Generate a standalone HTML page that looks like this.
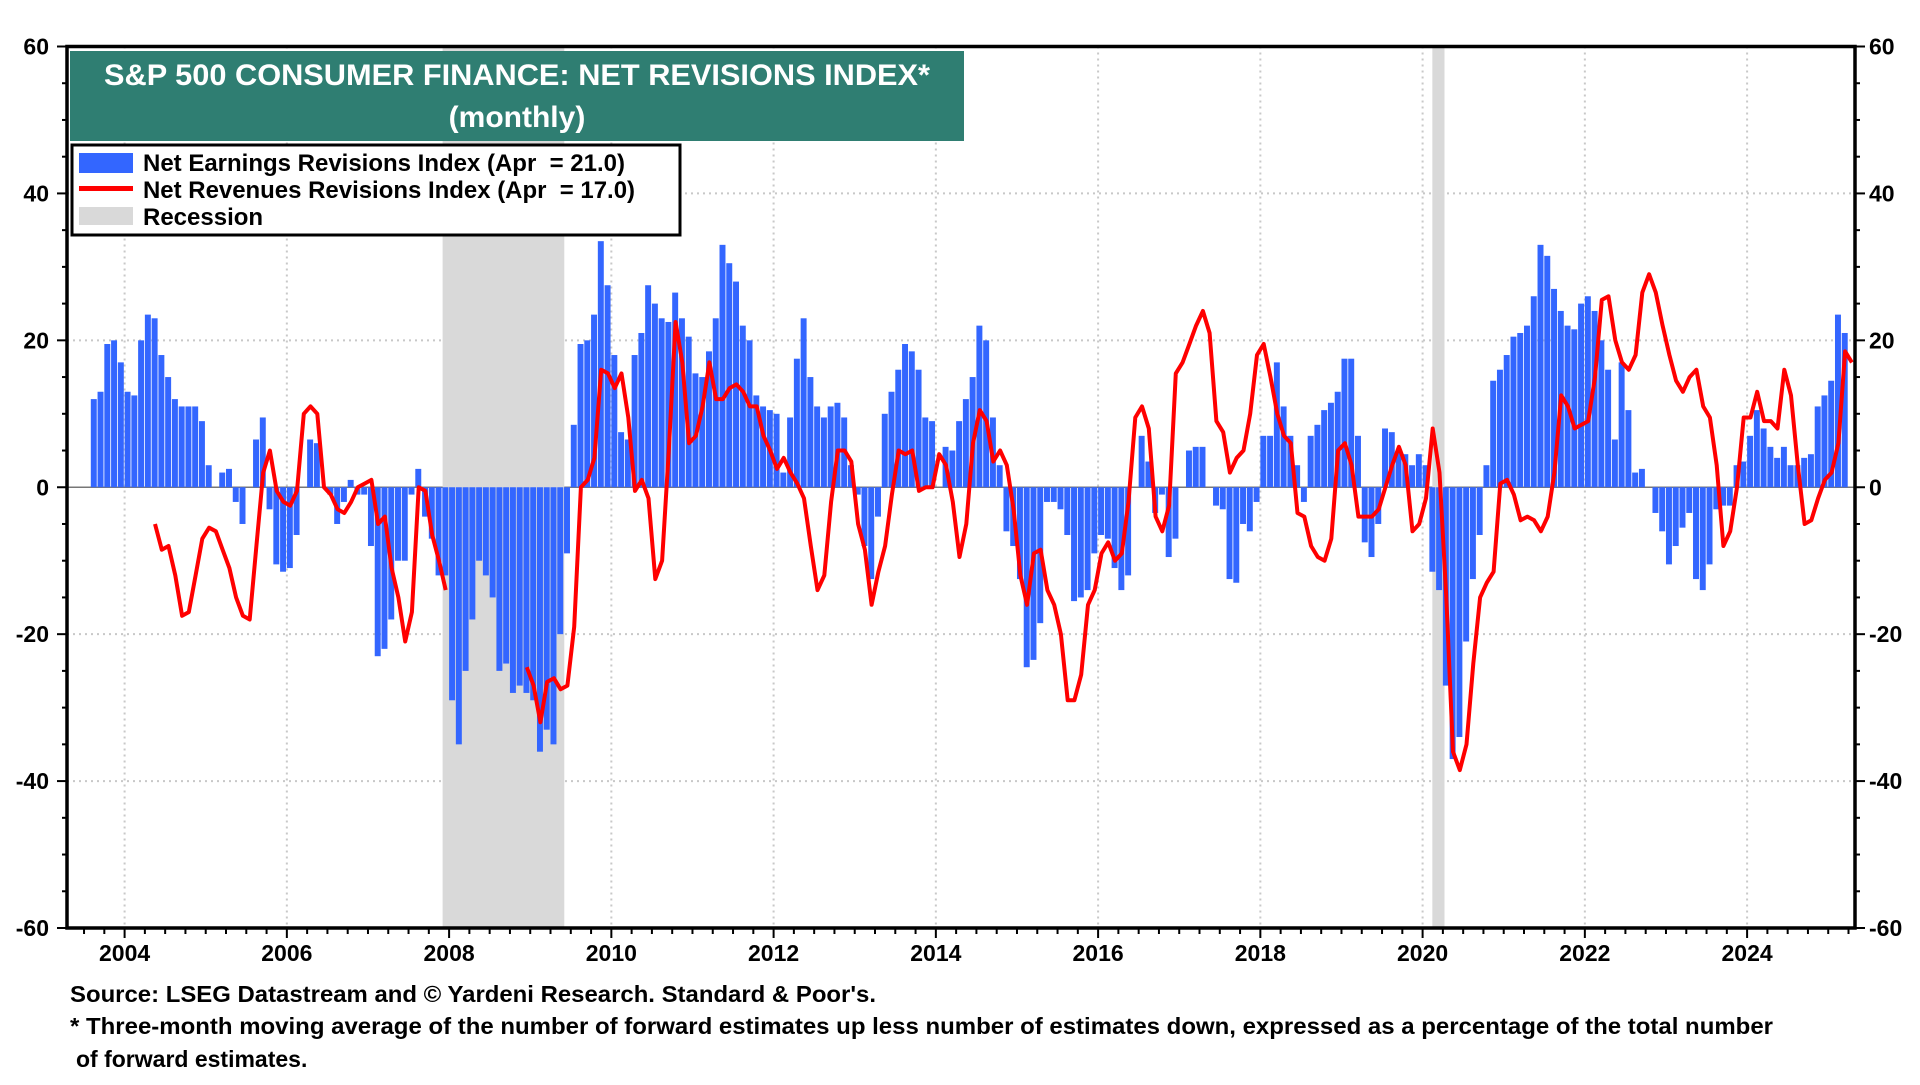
<!DOCTYPE html>
<html><head><meta charset="utf-8"><style>
body{margin:0;background:#fff;width:1920px;height:1080px;overflow:hidden;font-family:"Liberation Sans",Arial,sans-serif;}
svg text{font-family:"Liberation Sans",Arial,sans-serif;font-weight:bold;}
</style></head><body>
<svg id="chart" width="1920" height="1080" viewBox="0 0 1920 1080" xmlns="http://www.w3.org/2000/svg" xml:space="preserve">
<g id="grid"></g>
<g id="recessions"></g>
<g id="bars"></g>
<g id="lines"></g>
<g id="axes"></g>
<g>
<rect x="70" y="51" width="894" height="90" fill="#2F7E72"/>
<text x="517" y="85" font-size="30" fill="#fff" text-anchor="middle" textLength="826" lengthAdjust="spacingAndGlyphs">S&amp;P 500 CONSUMER FINANCE: NET REVISIONS INDEX*</text>
<text x="517" y="127" font-size="30" fill="#fff" text-anchor="middle">(monthly)</text>
</g>
<g>
<rect x="72" y="145" width="608" height="90" fill="#fff" stroke="#000" stroke-width="3"/>
<rect x="79" y="153" width="54" height="20" fill="#3366FF"/>
<text x="143" y="171" font-size="24" textLength="482" lengthAdjust="spacingAndGlyphs">Net Earnings Revisions Index (Apr&#160;&#160;= 21.0)</text>
<rect x="79" y="186" width="54" height="5" fill="#FF0000"/>
<text x="143" y="198" font-size="24" textLength="492" lengthAdjust="spacingAndGlyphs">Net Revenues Revisions Index (Apr&#160;&#160;= 17.0)</text>
<rect x="79" y="207" width="54" height="18" fill="#D9D9D9"/>
<text x="143" y="225" font-size="24">Recession</text>
</g>
<g>
<text x="70" y="1002" font-size="23" textLength="806" lengthAdjust="spacingAndGlyphs">Source: LSEG Datastream and © Yardeni Research. Standard &amp; Poor's.</text>
<text x="70" y="1034" font-size="23" textLength="1703" lengthAdjust="spacingAndGlyphs">* Three-month moving average of the number of forward estimates up less number of estimates down, expressed as a percentage of the total number</text>
<text x="76" y="1067" font-size="23">of forward estimates.</text>
</g>
</svg>
<script>
// data: monthly from Aug 2003
const startYear = 2003, startMonth = 7; // Aug (0-based)
const earnings = [12,13,19.5,20,17,13,12.5,20,23.5,23,18,15,12,11,11,11,9,3,0,2,2.5,-2,-5,0,6.5,9.5,-3,-10.5,-11.5,-11,-6.5,0,6.5,6,0,-1,-5,-2,1,-1,-1,-8,-23,-22,-18,-10,-10,-1,2.5,-4,-7,-12,-12,-29,-35,-25,-18,-10,-12,-15,-25,-24,-28,-27,-28,-29,-36,-33,-35,-20,-9,8.5,19.5,20,23.5,33.5,27.5,18,7.5,6.5,18,21,27.5,25,23,22.5,26.5,23,20.5,15.5,15,18.5,23,33,30.5,28,22,20,12.5,11,10.5,10,2,9.5,17.5,23,15,11,9.5,11,11.5,9.5,3,-1,-8,-12.5,-4,10,13,16,19.5,18.5,16,9.5,9,0,5.5,5,9,12,15,22,20,9.5,3,-6,-8,-12.5,-24.5,-23.5,-18.5,-2,-2,-3,-6.5,-15.5,-15,-14,-9,-6.5,-7,-11,-14,-12,0,7,3.5,-3.5,-1,-9.5,-7,0,5,5.5,5.5,0,-2.5,-3,-12.5,-13,-5,-6,-2,7,7,17,11,7,3,-2,7,8.5,10.5,11.5,13,17.5,17.5,7,-7.5,-9.5,-5,8,7.5,5,4.5,3,4.5,3,-11.5,-14,-27,-37,-34,-21,-12.5,-6.5,3,14.5,16,18,20.5,21,22,26,33,31.5,27,24,22,21.5,25,26,24,20,16,6.5,17,10.5,2,2.5,0,-3.5,-6,-10.5,-8,-5.5,-3.5,-12.5,-14,-10.5,-3,-2.5,-2.5,3,3.5,7,10.5,8,5.5,4,5.5,3,3,4,4.5,11,12.5,14.5,23.5,21];
const revenues1Start = 9;
const revenues1 = [-5,-8.5,-8,-12,-17.5,-17,-12,-7,-5.5,-6,-8.5,-11,-15,-17.5,-18,-8,2,5,-0.5,-2,-2.5,-0.5,10,11,10,0,-1,-3,-3.5,-2,0,0.5,1,-5,-4,-11,-15,-21,-17,0,-0.5,-6.5,-10,-14];
const revenues2Start = 64;
const revenues2 = [-24.5,-27,-32,-26.5,-26,-27.5,-27,-19,0,1,4,16,15.5,13.5,15.5,9.5,-0.5,1,-1.5,-12.5,-10,5,22.5,17,6,7,11,17,12,12,13.5,14,13,11,11,7,5,2.5,4,2,0.5,-1.5,-8,-14,-12,-2,5,5,3.5,-5,-8.5,-16,-11.5,-8,-1,5,4.5,5,-0.5,0,0,4.5,3,-2,-9.5,-5,6,10.5,9,3.5,5,3,-3,-12,-16,-9,-8.5,-14,-16,-20,-29,-29,-25.5,-16,-14,-9,-7.5,-10,-9,-2,9.5,11,8,-4,-6,-2.5,15.5,17,19.5,22,24,21,9,7.5,2,4,5,10,18,19.5,15,10,7,6,-3.5,-4,-8,-9.5,-10,-7,5,6,3,-4,-4,-4,-3,0,3,5.5,3,-6,-5,-1.5,8,2,-15,-36,-38.5,-35,-24,-15,-13,-11.5,0.5,1,-1,-4.5,-4,-4.5,-6,-4,2,12.5,11,8,8.5,9,15,25.5,26,20,17,16,18,26.5,29,26.5,22,18,14.5,13,15,16,11,9.5,3,-8,-6,0,9.5,9.5,13,9,9,8,16,12.5,3,-5,-4.5,-1.5,1,2,6,18.5,17];
const recessions = [[2007.92,2009.42],[2020.12,2020.27]];
const yTicks = [60,40,20,0,-20,-40,-60];
const yearTicks = [2004,2006,2008,2010,2012,2014,2016,2018,2020,2022,2024];

const L=67,R=1855,T=46.5,B=928;
const yMin=-60,yMax=60,tMin=2003.29,tMax=2025.33;
function ys(v){return B-(v-yMin)/(yMax-yMin)*(B-T);}
function xt(t){return L+(t-tMin)/(tMax-tMin)*(R-L);}
function xi(i){return xt(startYear+(startMonth+i+0.5)/12);}
const NS="http://www.w3.org/2000/svg";
function mk(tag,parent,attrs){const e=document.createElementNS(NS,tag);for(const k in attrs)e.setAttribute(k,attrs[k]);parent.appendChild(e);return e;}
const grid=document.getElementById('grid'),rec=document.getElementById('recessions'),bars=document.getElementById('bars'),lines=document.getElementById('lines'),axes=document.getElementById('axes');

yTicks.forEach(v=>{
  if(v!==60&&v!==-60&&v!==0){const g=mk('line',grid,{x1:L,x2:R,y1:ys(v),y2:ys(v),stroke:'#c8c8c8','stroke-width':2,'stroke-dasharray':'2,4'});
  
  }
  const a=mk('text',axes,{x:L-18,y:ys(v)+8,'font-size':23,'text-anchor':'end'});a.textContent=v;
  
  
  const b=mk('text',axes,{x:R+14,y:ys(v)+8,'font-size':23,'text-anchor':'start'});b.textContent=v;
  
  
});
for(let v=yMin;v<=yMax;v+=5){
  const big=v%20===0;
  mk('line',axes,{x1:L-(big?10:5),x2:L,y1:ys(v),y2:ys(v),stroke:'#000','stroke-width':2});
  mk('line',axes,{x1:R,x2:R+(big?10:5),y1:ys(v),y2:ys(v),stroke:'#000','stroke-width':2});
}
yearTicks.forEach(y=>{
  const g=mk('line',grid,{x1:xt(y),x2:xt(y),y1:T,y2:B,stroke:'#c8c8c8','stroke-width':2,'stroke-dasharray':'2,4'});
  
  
  const t=mk('text',axes,{x:xt(y),y:961,'font-size':23,'text-anchor':'middle'});t.textContent=y;
  
  
});
for(let q=Math.ceil(tMin*4);q<=tMax*4;q++){
  const big=q%8===0;
  mk('line',axes,{x1:xt(q/4),x2:xt(q/4),y1:B,y2:B+(big?10:6),stroke:'#000','stroke-width':2});
}
recessions.forEach(r=>{
  const e=mk('rect',rec,{x:xt(r[0]),y:T,width:xt(r[1])-xt(r[0]),height:B-T,fill:'#D9D9D9'});
  
  
});
mk('line',grid,{x1:L,x2:R,y1:ys(0),y2:ys(0),stroke:'#777','stroke-width':1.5});
const bw=(xi(1)-xi(0));
earnings.forEach((v,i)=>{
  const y0=ys(0),y1=ys(v);
  const e=mk('rect',bars,{x:xi(i)-bw/2,y:Math.min(y0,y1),width:bw-0.8,height:Math.abs(y1-y0),fill:'#3366FF'});
  
  
});
[[revenues1Start,revenues1],[revenues2Start,revenues2]].forEach(([s,arr])=>{
  const pts=arr.map((v,k)=>xi(s+k).toFixed(1)+','+ys(v).toFixed(1)).join(' ');
  const p=mk('polyline',lines,{points:pts,fill:'none',stroke:'#FF0000','stroke-width':4,'stroke-linejoin':'round'});
  
  
});
const f=mk('rect',axes,{x:L,y:T,width:R-L,height:B-T,fill:'none',stroke:'#000','stroke-width':3.5});


</script>
</body></html>
